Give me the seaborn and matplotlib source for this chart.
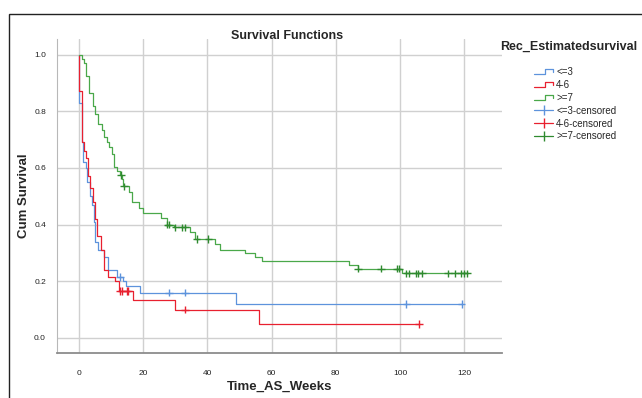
import numpy as np
import pandas as pd
import matplotlib
matplotlib.use("Agg")
import matplotlib.pyplot as plt
import seaborn as sns
from matplotlib.lines import Line2D
from matplotlib.legend_handler import HandlerBase, HandlerLine2D
from matplotlib.patches import Rectangle

# Kaplan-Meier step data (weeks, cumulative survival)
low_t = [0, 0.05, 0.8, 1.2, 2.0, 2.6, 3.3, 4.0, 4.5, 5.0, 6.0, 7.6, 9.1, 11.9, 13.6, 14.5, 19.0, 48.9]
low_s = [1.0, 0.83, 0.69, 0.62, 0.60, 0.55, 0.50, 0.47, 0.41, 0.34, 0.31, 0.285, 0.24, 0.215, 0.20, 0.185, 0.16, 0.12]
low_end = 119.2
low_cens = [12.8, 28.0, 33.0, 102.0, 119.2]

mid_t = [0, 0.1, 1.0, 1.6, 2.2, 2.8, 3.5, 4.2, 5.0, 5.5, 6.8, 7.9, 9.1, 11.2, 12.3, 16.7, 29.9, 56.2]
mid_s = [1.0, 0.87, 0.69, 0.66, 0.635, 0.57, 0.53, 0.48, 0.42, 0.36, 0.31, 0.24, 0.215, 0.20, 0.165, 0.135, 0.10, 0.05]
mid_end = 106.0
mid_cens = [12.8, 13.3, 14.8, 15.3, 33.0, 106.0]

high_t = [0, 0.8, 1.5, 2.2, 3.2, 4.3, 5.0, 6.0, 7.0, 7.8, 8.6, 9.4, 10.2, 10.9, 11.7, 12.6,
          13.3, 13.7, 15.4, 16.4, 18.8, 19.8, 25.5, 27.3, 29.5, 34.5, 36.0, 42.4, 43.9,
          51.7, 54.8, 56.9, 84.0, 87.0, 100.5]
high_s = [1.0, 0.985, 0.97, 0.925, 0.865, 0.82, 0.79, 0.755, 0.735, 0.71, 0.69, 0.675, 0.65, 0.605, 0.59, 0.575,
          0.56, 0.535, 0.515, 0.48, 0.46, 0.44, 0.425, 0.40, 0.39, 0.373, 0.35, 0.33, 0.31,
          0.30, 0.285, 0.273, 0.258, 0.245, 0.228]
high_end = 120.9
high_cens = [13.0, 14.0, 27.5, 28.0, 30.0, 32.0, 33.0, 36.6, 40.3, 87.0, 94.0, 99.0, 99.7,
             102.0, 102.8, 105.0, 105.7, 106.8, 115.0, 117.1, 119.0, 120.0, 120.9]

groups = ["<=3", "4-6", ">=7"]
colors = {"<=3": "#5d93dc", "4-6": "#e8202f", ">=7": "#4aa84a"}
cens_colors = {"<=3": "#5d93dc", "4-6": "#e8202f", ">=7": "#2f8a2f"}

curves = {"<=3": (low_t, low_s, low_end, low_cens),
          "4-6": (mid_t, mid_s, mid_end, mid_cens),
          ">=7": (high_t, high_s, high_end, high_cens)}

rows, crows = [], []
for g in groups:
    t, s, end, cens = curves[g]
    for a, b in zip(t + [end], s + [s[-1]]):
        rows.append({"Time": a, "Surv": b, "group": g})
    for c in cens:
        idx = np.searchsorted(t, c, side="right") - 1
        crows.append({"Time": c, "Surv": s[idx], "group": g})
df = pd.DataFrame(rows)
cdf = pd.DataFrame(crows)

sns.set_style("white")
plt.rcParams["font.family"] = ["Liberation Sans", "DejaVu Sans"]

fig = plt.figure(figsize=(6.42, 3.98), dpi=100)
ax = fig.add_axes([57 / 642, 1 - 353 / 398, (502 - 57) / 642, (353 - 39) / 398])

sns.lineplot(data=df, x="Time", y="Surv", hue="group", palette=colors, hue_order=groups,
             drawstyle="steps-post", estimator=None, sort=False, lw=0.9, legend=False, ax=ax)
sns.scatterplot(data=cdf, x="Time", y="Surv", hue="group", palette=cens_colors, hue_order=groups,
                marker="+", s=30, linewidth=1.0, legend=False, ax=ax, zorder=3)

ax.set_xlim(-6.9, 131.8)
ax.set_ylim(-0.053, 1.055)
ax.set_xticks([0, 20, 40, 60, 80, 100, 120])
ax.set_yticks([0.0, 0.2, 0.4, 0.6, 0.8, 1.0])
ax.set_yticklabels(["0.0", "0.2", "0.4", "0.6", "0.8", "1.0"])
ax.grid(True, color="#d0d0d0", lw=1.0)
ax.set_axisbelow(True)
ax.tick_params(length=0, labelsize=6, colors="#222222")
ax.tick_params(axis="x", pad=12)
ax.tick_params(axis="y", pad=8)
for sp in ["top", "right"]:
    ax.spines[sp].set_visible(False)
ax.spines["left"].set_color("#b8b8b8")
ax.spines["bottom"].set_color("#8c8c8c")
ax.spines["bottom"].set_linewidth(1.3)

ax.set_xlabel("Time_AS_Weeks", fontsize=9.5, fontweight="bold", labelpad=3)
ax.set_ylabel("Cum Survival", fontsize=9.5, fontweight="bold", labelpad=3)
fig.text(287 / 642, 1 - 36 / 398, "Survival Functions", fontsize=9, fontweight="bold",
         ha="center", va="center")


class StepHandler(HandlerBase):
    def create_artists(self, legend, orig_handle, xdescent, ydescent, width, height, fontsize, trans):
        xs = np.array([0, 0.55, 0.55, 1.0, 1.0]) * width - xdescent
        ys = np.array([0.15, 0.15, 0.85, 0.85, 0.45]) * height - ydescent
        ln = Line2D(xs, ys, color=orig_handle.get_color(), lw=0.9)
        ln.set_transform(trans)
        return [ln]


handles, labels, hmap = [], [], {}
for g in groups:
    h = Line2D([0], [0], color=colors[g])
    handles.append(h)
    labels.append(g)
    hmap[h] = StepHandler()
for g in groups:
    h = Line2D([0], [0], color=cens_colors[g], marker="|", markersize=7, lw=0.9)
    handles.append(h)
    labels.append(g + "-censored")
    hmap[h] = HandlerLine2D(numpoints=1)

leg = fig.legend(handles, labels, handler_map=hmap, loc="upper left",
                 bbox_to_anchor=(530 / 642, 1 - 63 / 398), frameon=False, fontsize=7,
                 handlelength=2.0, handletextpad=0.3, labelspacing=0.3, borderaxespad=0)
fig.text(500 / 642, 1 - 47 / 398, "Rec_Estimatedsurvival", fontsize=9, fontweight="bold",
         ha="left", va="center")

# image frame
fig.patches.append(Rectangle((9 / 642, -0.2), 2, 1 - 14 / 398 + 0.2, transform=fig.transFigure,
                             fill=False, ec="#222222", lw=1.0))

fig.savefig("out.png", dpi=100)
